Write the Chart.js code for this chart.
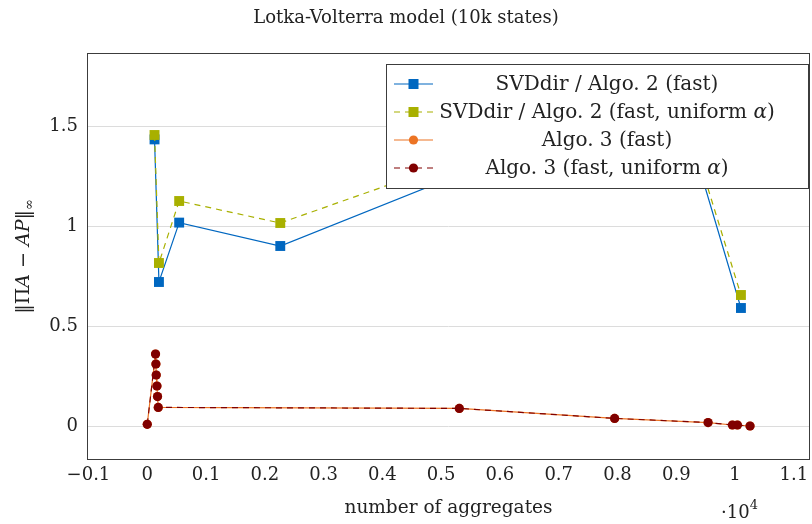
<!DOCTYPE html>
<html><head><meta charset="utf-8">
<script src="https://cdn.jsdelivr.net/npm/chart.js@4"></script>
<style>html,body{margin:0;padding:0;background:#fff;}canvas{display:block;}</style>
</head><body>
<canvas id="c" width="812" height="524"></canvas>
<script>
// ---------- data ----------
const titleText = 'Lotka-Volterra model (10k states)';
const xTitle = 'number of aggregates';
const seriesLabels = [
  'SVDdir / Algo. 2 (fast)',
  'SVDdir / Algo. 2 (fast, uniform α)',
  'Algo. 3 (fast)',
  'Algo. 3 (fast, uniform α)'
];
const svdX        = [124, 199, 543, 2263, 8990, 10100];
const svdFast     = [1.433, 0.72, 1.017, 0.90, 1.69, 0.59];
const svdUniform  = [1.455, 0.815, 1.125, 1.015, 1.71, 0.655];
const algo3X       = [0, 141, 147, 153, 165, 175, 187, 5309, 7951, 9541, 9955, 10040, 10255];
const algo3Fast    = [0.0085, 0.36, 0.31, 0.255, 0.20, 0.147, 0.093, 0.088, 0.038, 0.017, 0.005, 0.005, 0.0];
const algo3Uniform = [0.0085, 0.36, 0.31, 0.255, 0.20, 0.147, 0.093, 0.088, 0.038, 0.017, 0.005, 0.005, 0.0];
const xTicks = [-1000, 0, 1000, 2000, 3000, 4000, 5000, 6000, 7000, 8000, 9000, 10000, 11000];
const yTicks = [0, 0.5, 1, 1.5];

// ---------- styling ----------
const FONT = "'DejaVu Serif', serif";
const FS = 18;
const LFS = 20;
const colors = ['#0067c0', '#a8b000', '#ec7424', '#800000'];
const pts = (xs, ys) => xs.map((x, i) => ({x, y: ys[i]}));

Chart.defaults.font.family = FONT;
Chart.defaults.font.size = FS;
Chart.defaults.color = '#222';

const datasets = [
  {label: seriesLabels[0], data: pts(svdX, svdFast), borderColor: colors[0], backgroundColor: colors[0],
   borderWidth: 1.2, pointStyle: 'rect', pointRadius: 7, pointBorderWidth: 0, order: 4},
  {label: seriesLabels[1], data: pts(svdX, svdUniform), borderColor: colors[1], backgroundColor: colors[1],
   borderWidth: 1.2, borderDash: [6, 5], pointStyle: 'rect', pointRadius: 7, pointBorderWidth: 0, order: 3},
  {label: seriesLabels[2], data: pts(algo3X, algo3Fast), borderColor: colors[2], backgroundColor: colors[2],
   borderWidth: 1.2, pointStyle: 'circle', pointRadius: 4.6, pointBorderWidth: 0, order: 2},
  {label: seriesLabels[3], data: pts(algo3X, algo3Uniform), borderColor: colors[3], backgroundColor: colors[3],
   borderWidth: 1.2, borderDash: [6, 5], pointStyle: 'circle', pointRadius: 4.6, pointBorderWidth: 0, order: 1}
];

function drawRich(ctx, parts, x, y, align) {
  let total = 0;
  const widths = parts.map(p => {
    ctx.font = (p.italic ? 'italic ' : '') + (p.size || FS) + 'px ' + FONT;
    const w = ctx.measureText(p.t).width; total += w; return w;
  });
  let cx = align === 'center' ? x - total / 2 : x;
  parts.forEach((p, i) => {
    ctx.font = (p.italic ? 'italic ' : '') + (p.size || FS) + 'px ' + FONT;
    ctx.textAlign = 'left';
    ctx.fillText(p.t, cx, y + (p.dy || 0));
    cx += widths[i];
  });
}
function labelParts(s, size) {
  const out = [];
  s.split('α').forEach((seg, i, arr) => {
    if (seg) out.push({t: seg, size});
    if (i < arr.length - 1) out.push({t: 'α', italic: true, size});
  });
  return out;
}

const decor = {
  id: 'decor',
  afterDatasetsDraw(chart) {
    const {ctx, chartArea: a} = chart;
    ctx.save();
    ctx.strokeStyle = '#3c3c3c'; ctx.lineWidth = 1;
    ctx.strokeRect(Math.round(a.left) + 0.5, Math.round(a.top) + 0.5,
                   Math.round(a.right - a.left) - 1, Math.round(a.bottom - a.top) - 1);
    const L = {x: 386.5, y: 64.5, w: 422, h: 124};
    ctx.fillStyle = '#fff';
    ctx.fillRect(L.x, L.y, L.w, L.h);
    ctx.strokeStyle = '#3c3c3c';
    ctx.strokeRect(L.x, L.y, L.w, L.h);
    const rowY = [84, 112, 140, 168];
    chart.data.datasets.forEach((ds, i) => {
      const y = rowY[i];
      ctx.strokeStyle = ds.borderColor; ctx.lineWidth = 1.2;
      ctx.setLineDash(ds.borderDash || []);
      ctx.beginPath(); ctx.moveTo(394, y); ctx.lineTo(433, y); ctx.stroke();
      ctx.setLineDash([]);
      ctx.fillStyle = ds.backgroundColor;
      if (ds.pointStyle === 'rect') ctx.fillRect(408.5, y - 5, 10, 10);
      else { ctx.beginPath(); ctx.arc(413.5, y, 4.6, 0, Math.PI * 2); ctx.fill(); }
      ctx.fillStyle = '#222'; ctx.textBaseline = 'middle';
      drawRich(ctx, labelParts(ds.label, LFS), 607, y + 1, 'center');
    });
    ctx.restore();
  },
  afterDraw(chart) {
    const {ctx, chartArea: a} = chart;
    ctx.save();
    ctx.fillStyle = '#222'; ctx.textBaseline = 'middle';
    drawRich(ctx, [{t: titleText, size: FS}], 406, 18, 'center');
    drawRich(ctx, [{t: xTitle, size: 18.5}], (a.left + a.right) / 2, 508, 'center');
    drawRich(ctx, [{t: '·10', size: FS}, {t: '4', size: 13, dy: -7}], 721, 513, 'left');
    ctx.translate(24, (a.top + a.bottom) / 2);
    ctx.rotate(-Math.PI / 2);
    drawRich(ctx, [{t: '‖Π', size: 19}, {t: 'A', italic: true, size: 19}, {t: ' − ', size: 19},
                   {t: 'AP', italic: true, size: 19}, {t: '‖', size: 19}, {t: '∞', size: 13, dy: 6}], 0, 0, 'center');
    ctx.restore();
  }
};

new Chart(document.getElementById('c'), {
  type: 'line',
  data: {datasets},
  options: {
    responsive: false,
    animation: false,
    devicePixelRatio: 1,
    layout: {autoPadding: false, padding: {top: 53, right: 2, left: 0, bottom: 0}},
    plugins: {legend: {display: false}, title: {display: false}, tooltip: {enabled: false}},
    scales: {
      x: {
        type: 'linear', min: -1025, max: 11275,
        afterBuildTicks: s => { s.ticks = xTicks.map(v => ({value: v})); },
        afterFit: s => { s.height = 64; s.paddingLeft = 0; s.paddingRight = 0; },
        grid: {display: false, drawTicks: false},
        border: {display: false},
        ticks: {padding: 5, maxRotation: 0, autoSkip: false, font: {size: FS},
                callback: v => { const t = +(v / 10000).toFixed(1); return t < 0 ? '−' + Math.abs(t) : String(t); }}
      },
      y: {
        type: 'linear', min: -0.17, max: 1.865,
        afterBuildTicks: s => { s.ticks = yTicks.map(v => ({value: v})); },
        afterFit: s => { s.width = 87; s.paddingTop = 0; s.paddingBottom = 0; },
        grid: {color: '#dcdcdc', lineWidth: 1, drawTicks: false},
        border: {display: false},
        ticks: {padding: 9, font: {size: FS}, callback: v => String(v)}
      }
    }
  },
  plugins: [decor]
});
</script>
</body></html>
